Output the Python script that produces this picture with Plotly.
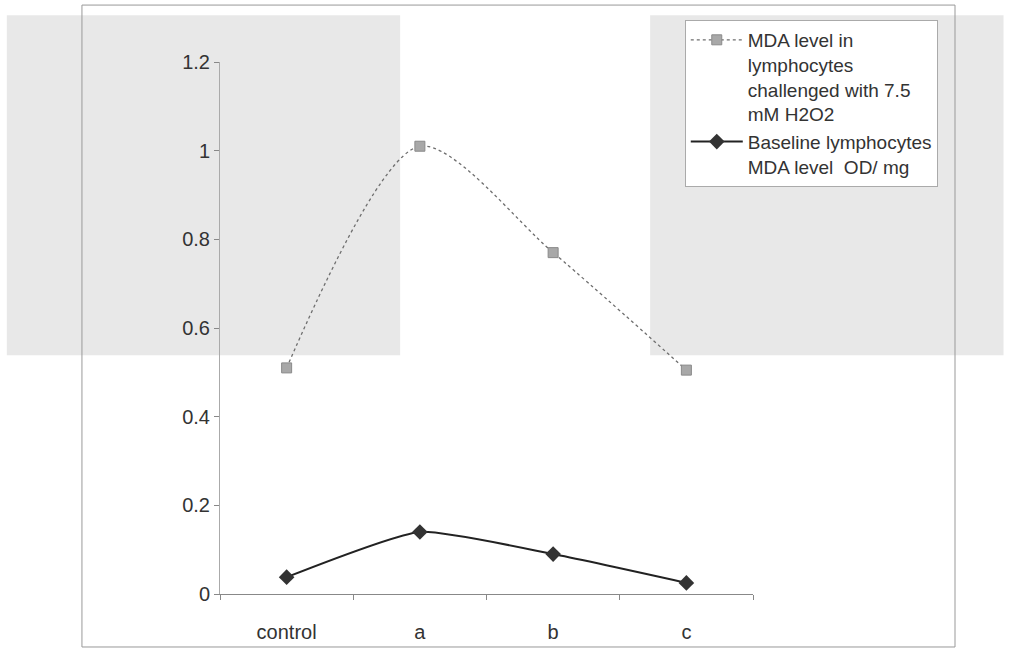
import plotly.graph_objects as go

categories = ["control", "a", "b", "c"]
challenged = [0.51, 1.01, 0.77, 0.505]
baseline = [0.038, 0.14, 0.09, 0.025]
y_ticks = [0, 0.2, 0.4, 0.6, 0.8, 1.0, 1.2]
y_tick_labels = ["0", "0.2", "0.4", "0.6", "0.8", "1", "1.2"]
name_challenged = "MDA level in<br>lymphocytes<br>challenged with 7.5<br>mM H2O2"
name_baseline = "Baseline lymphocytes<br>MDA level  OD/ mg"

FONT = "Liberation Sans, Arial, sans-serif"

fig = go.Figure()
fig.add_trace(go.Scatter(
    x=categories, y=challenged, name=name_challenged,
    mode="lines+markers",
    line=dict(color="#6e6e6e", width=1.3, dash="dot", shape="spline", smoothing=0.8),
    marker=dict(symbol="square", size=10, color="#a8a8a8",
                line=dict(color="#8a8a8a", width=1)),
))
fig.add_trace(go.Scatter(
    x=categories, y=baseline, name=name_baseline,
    mode="lines+markers",
    line=dict(color="#222222", width=2, shape="spline", smoothing=0.5),
    marker=dict(symbol="diamond", size=12, color="#333333"),
))

fig.update_layout(
    width=1011, height=658,
    margin=dict(l=220, r=258, t=62, b=64),
    paper_bgcolor="white", plot_bgcolor="rgba(0,0,0,0)",
    font=dict(family=FONT, size=20, color="#333333"),
    showlegend=True,
    legend=dict(
        x=0.872, y=1.079, xanchor="left", yanchor="top",
        bgcolor="white", bordercolor="#aaaaaa", borderwidth=1,
        font=dict(family=FONT, size=19, color="#333333"),
        valign="top", itemwidth=52, tracegroupgap=0,
    ),
    xaxis=dict(
        type="category", range=[-0.5, 3.5], showgrid=False, zeroline=False,
        showline=True, linecolor="#888888", linewidth=1,
        ticks="outside", tickson="boundaries", ticklen=5, tickcolor="#888888",
        ticklabelstandoff=20,
        tickfont=dict(family=FONT, size=20, color="#333333"),
    ),
    yaxis=dict(
        range=[0, 1.2], tickvals=y_ticks, ticktext=y_tick_labels,
        showgrid=False, zeroline=False,
        showline=True, linecolor="#aaaaaa", linewidth=1,
        ticks="outside", ticklen=5, tickcolor="#888888",
        tickfont=dict(family=FONT, size=20, color="#333333"),
    ),
)

# light grey scanned-paper background patches
for x0, x1 in [(-0.40, 0.338), (0.807, 1.47)]:
    fig.add_shape(type="rect", xref="paper", yref="paper",
                  x0=x0, x1=x1, y0=0.449, y1=1.088,
                  fillcolor="#e8e8e8", line=dict(width=0), layer="below")

# outer chart frame
fig.add_shape(type="rect", xref="paper", yref="paper",
              x0=-0.259, x1=1.379, y0=-0.0996, y1=1.107,
              line=dict(color="#999999", width=1), layer="below")

fig.write_html(
    "out.html",
    config={"displayModeBar": False},
    post_script="document.body.style.margin='0';document.body.style.overflow='hidden';",
)
